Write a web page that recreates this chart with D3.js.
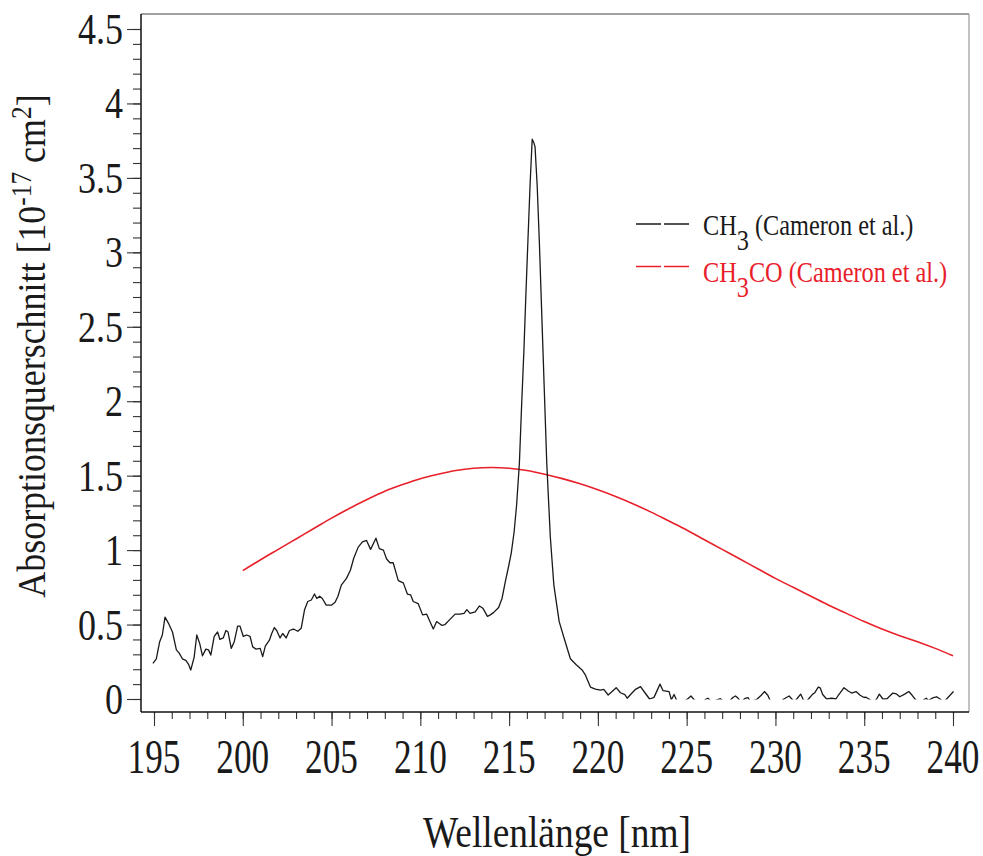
<!DOCTYPE html>
<html><head><meta charset="utf-8">
<script src="https://cdn.jsdelivr.net/npm/d3@7"></script>
<style>
body{margin:0;background:#fff}
svg{display:block}
text{font-family:"Liberation Serif","Times New Roman",serif}
</style>
</head><body>
<svg id="chart" width="983" height="856"></svg>
<script>
// ---------- data ----------
const xTickLabels = ["195","200","205","210","215","220","225","230","235","240"];
const yTickLabels = ["0","0.5","1","1.5","2","2.5","3","3.5","4","4.5"];
const seriesNames = ["CH3 (Cameron et al.)","CH3CO (Cameron et al.)"];
const seriesColors = ["#1a1a1a","#e8202a"];

const ch3Wavelength = [
194.94,195.13,195.32,195.47,195.62,195.81,196.04,196.26,196.41,196.60,196.79,196.94,197.07,197.26,197.41,197.58,197.73,197.92,198.07,198.20,
198.39,198.58,198.71,198.90,199.05,199.17,199.35,199.52,199.71,199.84,200.03,200.22,200.41,200.56,200.75,200.98,201.12,201.27,201.50,201.63,
201.78,201.91,202.10,202.25,202.44,202.63,202.85,203.10,203.29,203.48,203.66,203.86,204.04,204.17,204.33,204.48,204.70,204.99,205.20,205.36,
205.55,205.84,206.06,206.25,206.50,206.74,206.97,207.20,207.50,207.69,207.92,208.10,208.29,208.47,208.76,209.04,209.27,209.45,209.60,209.88,
210.13,210.36,210.54,210.73,210.92,211.20,211.39,211.67,211.96,212.24,212.46,212.62,212.80,213.09,213.33,213.52,213.78,213.94,214.12,214.41,
214.60,214.79,214.97,215.12,215.28,215.42,215.58,215.70,215.83,215.94,216.06,216.18,216.30,216.38,216.46,216.58,216.70,216.84,216.98,217.12,
217.32,217.52,217.82,218.12,218.45,218.78,219.11,219.30,219.58,219.86,220.14,220.33,220.58,220.80,221.03,221.27,221.52,221.65,221.84,222.12,
222.40,222.65,222.91,223.16,223.50,223.67,224.01,224.14,224.29,224.44,224.70,225.05,225.24,225.42,225.80,226.10,226.20,226.40,226.90,227.00,
227.30,227.60,227.75,227.90,228.05,228.30,228.45,228.60,228.97,229.20,229.38,229.57,229.70,230.10,230.47,230.77,230.96,231.05,231.20,231.42,
231.57,231.70,231.86,232.10,232.20,232.41,232.52,232.66,232.88,233.17,233.41,233.54,233.86,234.10,234.29,234.54,234.77,234.99,235.10,235.33,
235.50,235.70,235.85,236.05,236.27,236.61,236.80,237.00,237.28,237.51,237.70,237.89,238.10,238.42,238.50,238.60,238.90,239.08,239.27,239.45,
239.60,240.03];
const ch3Value = [
0.24,0.27,0.385,0.43,0.55,0.51,0.45,0.33,0.31,0.27,0.26,0.235,0.195,0.28,0.43,0.37,0.29,0.335,0.33,0.295,
0.42,0.45,0.40,0.41,0.46,0.45,0.34,0.385,0.49,0.49,0.42,0.43,0.42,0.35,0.335,0.34,0.285,0.355,0.395,0.44,
0.48,0.46,0.41,0.44,0.41,0.46,0.47,0.455,0.475,0.60,0.655,0.665,0.705,0.675,0.69,0.675,0.63,0.63,0.65,0.69,
0.765,0.81,0.865,0.945,1.02,1.055,1.065,1.005,1.08,1.01,1.00,0.94,0.915,0.915,0.795,0.78,0.705,0.70,0.655,0.64,
0.565,0.57,0.52,0.47,0.52,0.495,0.50,0.535,0.57,0.57,0.575,0.60,0.575,0.585,0.625,0.61,0.555,0.565,0.58,0.615,
0.675,0.79,0.89,0.98,1.12,1.30,1.585,1.96,2.33,2.70,3.08,3.45,3.76,3.74,3.71,3.45,3.08,2.58,2.08,1.585,
1.09,0.765,0.52,0.40,0.27,0.23,0.195,0.16,0.08,0.067,0.06,0.065,0.027,0.05,0.076,0.042,0.03,0.005,0.03,0.065,
0.083,0.042,0.0,0.011,0.10,0.056,0.05,-0.005,0.03,-0.01,-0.03,0.0,0.02,-0.005,-0.03,0.0,0.005,-0.02,0.002,-0.01,
-0.03,0.01,0.02,0.005,-0.02,0.005,0.01,-0.02,0.0,0.025,0.05,0.025,-0.01,-0.04,0.0,0.02,-0.005,-0.02,0.0,0.033,
-0.005,-0.02,0.0,0.033,0.04,0.08,0.075,0.03,0.0,0.005,0.0,0.025,0.076,0.054,0.04,0.05,0.025,0.01,0.012,-0.005,
-0.02,0.0,0.033,0.0,0.0,0.04,0.035,0.015,0.033,0.05,0.025,-0.005,-0.03,0.0,0.005,-0.01,0.01,0.015,0.0,-0.02,
-0.005,0.05];

const ch3coWavelength = [200,201,202,203,204,205,206,207,208,209,210,211,212,213,214,215,216,217,218,219,220,
221,222,223,224,225,226,227,228,229,230,231,232,233,234,235,236,237,238,239,240];
const ch3coValue = [0.862,0.935,1.005,1.075,1.145,1.215,1.28,1.34,1.395,1.44,1.48,1.51,1.535,1.55,1.555,1.55,1.535,1.51,1.48,1.445,1.405,
1.36,1.31,1.255,1.195,1.135,1.07,1.005,0.94,0.875,0.81,0.75,0.69,0.63,0.575,0.52,0.47,0.425,0.385,0.34,0.29];

// ---------- layout ----------
const frame = {l:141, r:969, t:14, b:712};
const x = d3.scaleLinear().domain([195,240]).range([154,953]);
const y = d3.scaleLinear().domain([0,4.5]).range([699,29]);

const svg = d3.select("#chart");

function sText(parent, px, py, size, sx, anchor, fill){
  return parent.append("text")
    .attr("transform", `translate(${px},${py}) scale(${sx},1)`)
    .attr("font-size", size)
    .attr("text-anchor", anchor)
    .attr("fill", fill || "#1a1a1a");
}

// clip for data (values below zero hidden)
svg.append("defs").append("clipPath").attr("id","plotclip")
  .append("rect").attr("x",frame.l).attr("y",frame.t)
  .attr("width",frame.r-frame.l).attr("height",y(0)-frame.t+0.5);

// frame
svg.append("line").attr("x1",frame.l).attr("x2",frame.r).attr("y1",frame.t).attr("y2",frame.t)
  .attr("stroke","#444").attr("stroke-width",1.2);
svg.append("line").attr("x1",frame.r).attr("x2",frame.r).attr("y1",frame.t).attr("y2",frame.b)
  .attr("stroke","#999").attr("stroke-width",1.2);

// x axis ticks
const xMajor = d3.axisBottom(x).tickValues(xTickLabels.map(Number)).tickSize(14).tickFormat("");
const xMinor = d3.axisBottom(x).tickValues(d3.range(195,241,1)).tickSize(7).tickFormat("");
const gxm = svg.append("g").attr("transform",`translate(0,${frame.b})`).call(xMinor);
const gx = svg.append("g").attr("transform",`translate(0,${frame.b})`).call(xMajor);
[gx,gxm].forEach(g=>{ g.select(".domain").remove(); g.selectAll("line").attr("stroke","#333").attr("stroke-width",1.1); });

// y axis ticks
const yMajor = d3.axisLeft(y).tickValues(yTickLabels.map(Number)).tickSize(14).tickFormat("");
const yMinor = d3.axisLeft(y).tickValues(d3.range(0,46,1).map(d=>d/10)).tickSize(8).tickFormat("");
const gym = svg.append("g").attr("transform",`translate(${frame.l},0)`).call(yMinor);
const gy = svg.append("g").attr("transform",`translate(${frame.l},0)`).call(yMajor);
[gy,gym].forEach(g=>{ g.select(".domain").remove(); g.selectAll("line").attr("stroke","#333").attr("stroke-width",1.1); });

// axis lines
svg.append("line").attr("x1",frame.l).attr("x2",frame.l).attr("y1",frame.t).attr("y2",frame.b)
  .attr("stroke","#111").attr("stroke-width",1.5);
svg.append("line").attr("x1",frame.l).attr("x2",frame.r).attr("y1",frame.b).attr("y2",frame.b)
  .attr("stroke","#111").attr("stroke-width",1.5);

// tick labels
xTickLabels.forEach(t=>{
  sText(svg, x(+t), 773, 49, 0.72, "middle").text(t);
});
yTickLabels.forEach(t=>{
  sText(svg, 123, y(+t)+15, 45, 0.8, "end").text(t);
});

// axis titles
sText(svg, 557, 847, 44, 0.85, "middle").text("Wellenlänge [nm]");
const yt = svg.append("text")
  .attr("transform","translate(45,346) rotate(-90) scale(0.876,1)")
  .attr("font-size",41).attr("text-anchor","middle").attr("fill","#1a1a1a");
yt.append("tspan").text("Absorptionsquerschnitt [10");
yt.append("tspan").attr("font-size",29).attr("dy",-14).text("-17");
yt.append("tspan").attr("dy",14).text(" cm");
yt.append("tspan").attr("font-size",29).attr("dy",-14).text("2");
yt.append("tspan").attr("dy",14).text("]");

// lines
const ch3 = ch3Wavelength.map((w,i)=>({w, v:ch3Value[i]}));
const ch3co = ch3coWavelength.map((w,i)=>({w, v:ch3coValue[i]}));
const gData = svg.append("g").attr("clip-path","url(#plotclip)");
gData.append("path").datum(ch3co)
  .attr("d", d3.line().x(d=>x(d.w)).y(d=>y(d.v)).curve(d3.curveMonotoneX))
  .attr("fill","none").attr("stroke",seriesColors[1]).attr("stroke-width",1.6);
gData.append("path").datum(ch3)
  .attr("d", d3.line().x(d=>x(d.w)).y(d=>y(d.v)))
  .attr("fill","none").attr("stroke",seriesColors[0]).attr("stroke-width",1.3).attr("stroke-linejoin","round");

// legend
const legRows = [{y:224, base:235}, {y:266.5, base:281.5}];
seriesNames.forEach((name,i)=>{
  const r = legRows[i];
  svg.append("line").attr("x1",636).attr("x2",689).attr("y1",r.y).attr("y2",r.y)
    .attr("stroke",seriesColors[i]).attr("stroke-width",1.3).attr("stroke-dasharray","25,3");
  const m = name.match(/^(CH)(3)(.*)$/);
  const t = sText(svg, 703, r.base, 30, 0.81, "start", seriesColors[i]);
  t.append("tspan").text(m[1]);
  t.append("tspan").attr("dy",15).text(m[2]);
  t.append("tspan").attr("dy",-15).text(m[3]);
});
</script>
</body></html>
